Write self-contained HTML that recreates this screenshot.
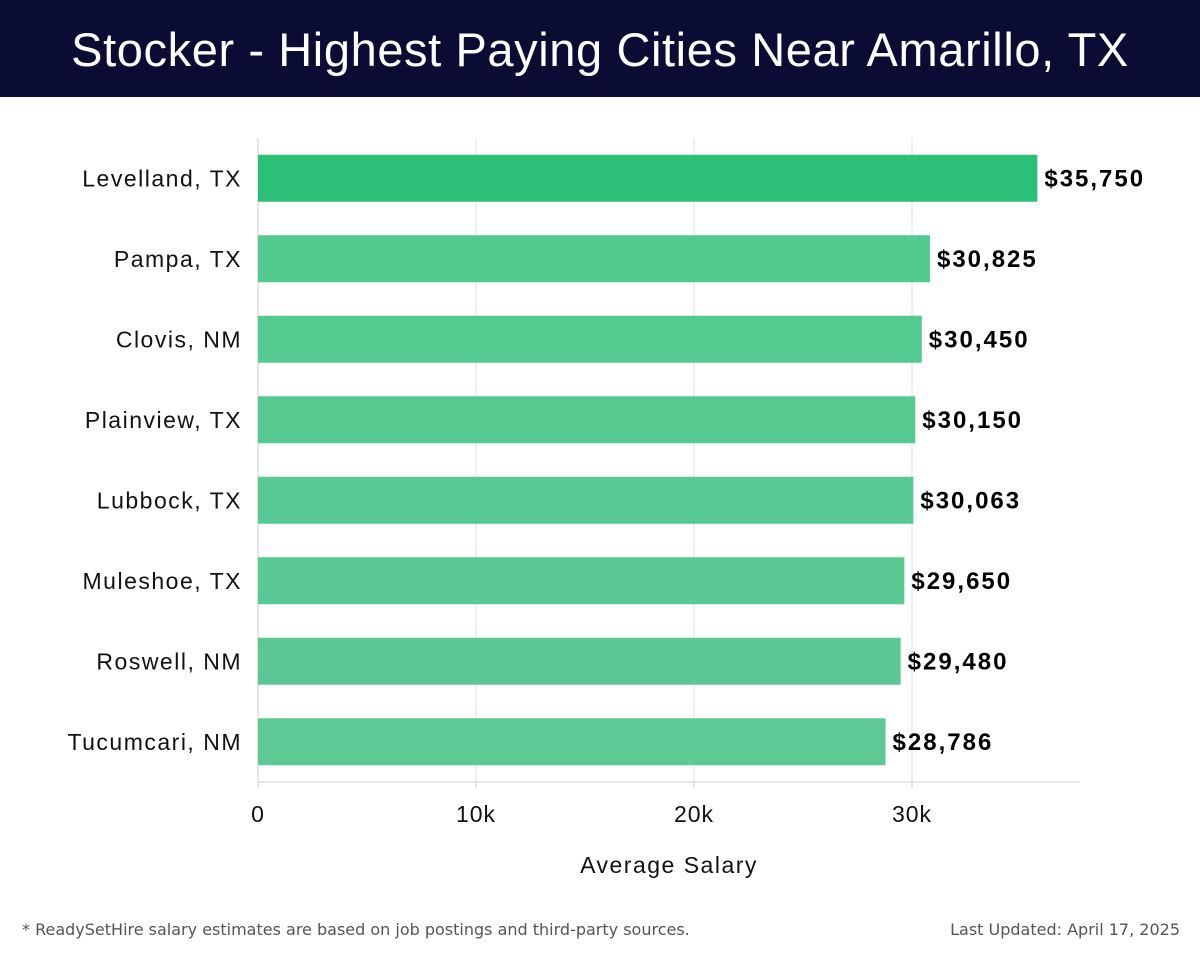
<!DOCTYPE html>
<html><head><meta charset="utf-8"><style>
body{margin:0;width:1200px;height:958px;background:#fff;font-family:"Liberation Sans","DejaVu Sans",sans-serif;overflow:hidden}
#hdr{position:absolute;left:0;top:0;width:1200px;height:97px;background:#0b0c33;color:#fff;font-size:47px;text-align:center;line-height:100px;letter-spacing:0.6px}
.foot{position:absolute;top:920px;font-size:16px;color:#555;font-family:"DejaVu Sans",sans-serif}
</style></head><body>
<div id="hdr">Stocker - Highest Paying Cities Near Amarillo, TX</div>
<svg id="chart" width="1200" height="958" style="position:absolute;left:0;top:0"></svg>
<div class="foot" style="left:22px">* ReadySetHire salary estimates are based on job postings and third-party sources.</div>
<div class="foot" style="right:20px">Last Updated: April 17, 2025</div>
<script>
const categories=["Levelland, TX","Pampa, TX","Clovis, NM","Plainview, TX","Lubbock, TX","Muleshoe, TX","Roswell, NM","Tucumcari, NM"];
const salaries=[35750,30825,30450,30150,30063,29650,29480,28786];
const valueLabels=["$35,750","$30,825","$30,450","$30,150","$30,063","$29,650","$29,480","$28,786"];
const ticks=[0,10000,20000,30000];
const tickLabels=["0","10k","20k","30k"];
const svg=document.getElementById('chart');
const NS='http://www.w3.org/2000/svg';
const x0=258,pxPer=0.0218,plotTop=138,plotBottom=782,plotRight=1080;
const x=v=>x0+v*pxPer;
const band=(plotBottom-plotTop)/categories.length;
const y=i=>plotTop+band*i+band/2;
function mk(t,a){const e=document.createElementNS(NS,t);for(const k in a)e.setAttribute(k,a[k]);svg.appendChild(e);return e;}
ticks.forEach((t,i)=>{
 const g=mk('line',{x1:x(t),x2:x(t),y1:plotTop,y2:plotBottom,stroke:'#e0e0e0','stroke-width':1});
 
 
 const tk=mk('line',{x1:x(t),x2:x(t),y1:plotBottom,y2:plotBottom+6,stroke:'#ccc'});
 
 
 const l=mk('text',{x:x(t),y:822,'text-anchor':'middle','font-size':23,fill:'#111','letter-spacing':1});
 l.textContent=tickLabels[i];
 
 
});
const ax=mk('line',{x1:x0,x2:plotRight,y1:plotBottom,y2:plotBottom,stroke:'#ccc'});


const ay=mk('line',{x1:x0,x2:x0,y1:plotTop,y2:plotBottom,stroke:'#ccc'});


categories.forEach((c,i)=>{
 const h=47;
 const col=i===0?'#2bbf78':'hsl(151,'+(53-i*0.5)+'%,'+(55+i*0.4)+'%)';
 const b=mk('rect',{x:x0,y:y(i)-h/2,width:x(salaries[i])-x0,height:h,fill:col});
 
 
 const v=mk('text',{x:x(salaries[i])+7,y:y(i)+8,'font-size':24,'font-weight':'bold',fill:'#000','letter-spacing':2});
 v.textContent=valueLabels[i];
 
 
 const l=mk('text',{x:242,y:y(i)+8,'text-anchor':'end','font-size':23,fill:'#111','letter-spacing':1.5});
 l.textContent=c;
 
 
});
const xt=mk('text',{x:669,y:873,'text-anchor':'middle','font-size':23,fill:'#111','letter-spacing':1.5});
xt.textContent='Average Salary';


</script>
</body></html>
